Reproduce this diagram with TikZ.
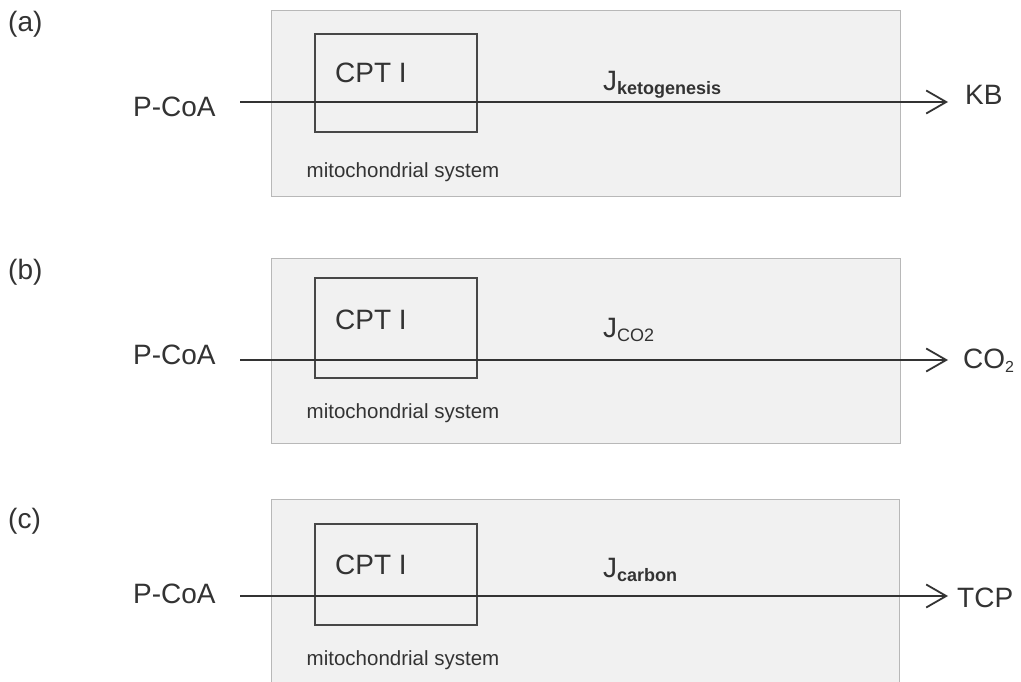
\documentclass[tikz,border=0pt]{standalone}
\usepackage{fontspec}
\setmainfont{Liberation Sans}
\usetikzlibrary{arrows.meta}
\definecolor{ink}{HTML}{333333}
\definecolor{panelfill}{HTML}{F1F1F1}
\definecolor{panelline}{HTML}{B8B8B8}
\tikzset{
  panel/.style={draw=panelline, line width=0.9pt, fill=panelfill, rectangle, inner sep=0pt, anchor=north west},
  cptbox/.style={draw=ink!90, line width=1.8pt, rectangle, inner sep=0pt, anchor=north west},
  big/.style={text=ink, inner sep=0pt, font=\fontsize{28}{30}\selectfont},
  small/.style={text=ink, inner sep=0pt, font=\fontsize{20.5}{22}\selectfont},
  flux/.style={draw=ink, line width=1.8pt, -{Straight Barb[length=20pt,width=23pt,line width=1.8pt]}},
}
\newcommand{\subtxt}[1]{\raisebox{-4pt}{\fontsize{18}{18}\selectfont #1}}
\begin{document}
\begin{tikzpicture}[x=1pt,y=-1pt]
\clip (0,0) rectangle (1021,682);
\fill[white] (0,0) rectangle (1021,682);

% ---------- panel (a)
\node[big, anchor=west] (la) at (8,24) {(a)};
\node[panel, minimum width=629pt, minimum height=186pt] (pa) at (271,10) {};
\node[cptbox, minimum width=162pt, minimum height=98pt] (ca) at (314,33) {};
\node[big, anchor=base west] (ta) at (335,83) {CPT I};
\node[small, anchor=base] (ma) at (403,178) {mitochondrial system};
\node[big, anchor=base west] (sa) at (133,117) {P-CoA};
\node[big, anchor=base west] (ea) at (965,105) {KB};
\coordinate (sa1) at (240,102);
\coordinate (ea1) at (948,102);
\draw[flux] (sa1) -- (ea1);
\node[big, anchor=base west] (ja) at (603,91) {J\subtxt{\bfseries ketogenesis}};

% ---------- panel (b)
\node[big, anchor=west] (lb) at (8,272) {(b)};
\node[panel, minimum width=629pt, minimum height=185pt] (pb) at (271,258) {};
\node[cptbox, minimum width=162pt, minimum height=100pt] (cb) at (314,277) {};
\node[big, anchor=base west] (tb) at (335,329) {CPT I};
\node[small, anchor=base] (mb) at (403,418) {mitochondrial system};
\node[big, anchor=base west] (sb) at (133,364) {P-CoA};
\node[big, anchor=base west] (eb) at (963,368) {CO\raisebox{-4pt}{\fontsize{16}{16}\selectfont 2}};
\coordinate (sb1) at (240,360);
\coordinate (eb1) at (948,360);
\draw[flux] (sb1) -- (eb1);
\node[big, anchor=base west] (jb) at (603,337) {J\subtxt{CO2}};

% ---------- panel (c)
\node[big, anchor=west] (lc) at (8,521) {(c)};
\node[panel, minimum width=628pt, minimum height=200pt] (pc) at (271,499) {};
\node[cptbox, minimum width=162pt, minimum height=101pt] (cc) at (314,523) {};
\node[big, anchor=base west] (tc) at (335,574) {CPT I};
\node[small, anchor=base] (mc) at (403,665) {mitochondrial system};
\node[big, anchor=base west] (sc) at (133,603) {P-CoA};
\node[big, anchor=base west] (ec) at (957,607) {TCP};
\coordinate (sc1) at (240,596);
\coordinate (ec1) at (948,596);
\draw[flux] (sc1) -- (ec1);
\node[big, anchor=base west] (jc) at (603,577) {J\subtxt{\bfseries carbon}};
\end{tikzpicture}
\end{document}
